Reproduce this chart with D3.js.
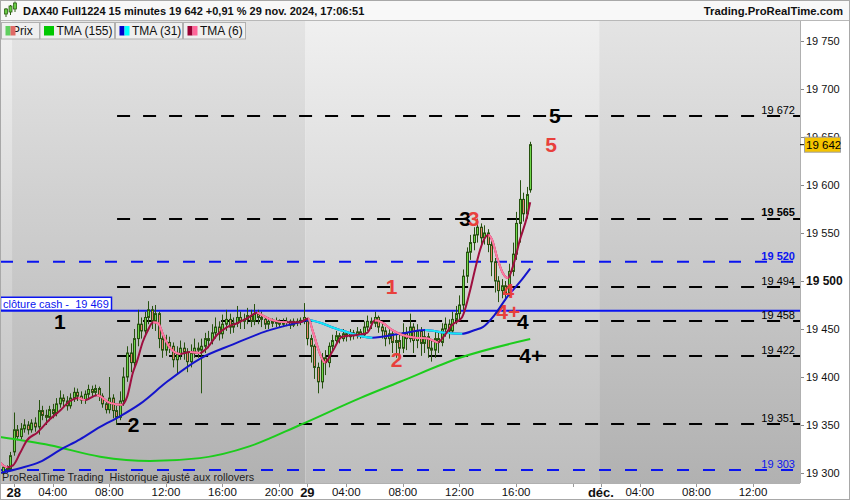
<!DOCTYPE html>
<html><head><meta charset="utf-8">
<script src="https://cdn.jsdelivr.net/npm/d3@7/dist/d3.min.js"></script>
<style>
html,body{margin:0;padding:0;background:#fff;}
svg{display:block;font-family:"Liberation Sans",Arial,Helvetica,sans-serif;}
</style></head><body>
<svg id="chart" width="850" height="500"></svg>
<script>
// ---------------- DATA ----------------
const title = "DAX40 Full1224 15 minutes 19 642 +0,91 % 29 nov. 2024, 17:06:51";
const brand = "Trading.ProRealTime.com";
const footNote = "ProRealTime Trading  Historique ajusté aux rollovers";
const firstBar = -3;            // bar index of first candle (27 nov, 21:15)
const barsPerDay = 83;          // 01:15 .. 21:45, 15-minute bars
const sessionStartHour = 1.25;

const opens = [19300,19306,19304,
19322,19345,19338,19346,19350,19345,19352,19348,19365,19360,
19358,19366,19362,19372,19378,19375,19370,19378,19384,19380,
19376,19382,19387,19384,19388,19380,19372,19366,19378,19365,
19358,19375,19400,19425,19415,19440,19455,19448,19462,19470,
19458,19466,19440,19428,19436,19432,19418,19424,19430,19426,
19416,19425,19430,19428,19432,19440,19438,19446,19452,19445,
19455,19460,19452,19456,19462,19458,19460,19464,19458,19466,
19462,19460,19455,19458,19456,19458,19455,19457,19458,19454,
19458,19457,19459,
19458,19440,19432,19410,19395,19420,19415,
19432,19438,19443,19440,19445,19442,19446,19443,19447,19444,
19452,19458,19456,19462,19452,19448,19440,19445,19436,19438,
19430,19446,19440,19452,19438,19448,19435,19442,19430,19428,
19440,19436,19450,19455,19448,19460,19466,19475,19505,19530,
19540,19548,19556,19545,19550,19538,19520,19500,19490,19495,
19488,19510,19528,19560,19585,19570,19595];
const highs = [19309,19308,19322,
19363,19350,19352,19356,19354,19356,19358,19376,19370,19366,
19370,19372,19378,19386,19382,19380,19383,19389,19388,19385,
19386,19392,19391,19392,19390,19383,19376,19400,19382,19370,
19385,19410,19432,19435,19450,19470,19462,19468,19479,19474,
19475,19468,19445,19444,19442,19436,19432,19438,19436,19430,
19434,19440,19436,19440,19446,19448,19455,19462,19458,19465,
19470,19466,19462,19474,19468,19466,19472,19470,19476,19470,
19468,19463,19462,19461,19462,19460,19461,19462,19460,19461,
19461,19462,19477,
19460,19444,19434,19415,19425,19428,19436,
19444,19448,19446,19450,19448,19450,19449,19452,19450,19458,
19464,19462,19468,19464,19456,19452,19452,19450,19446,19444,
19456,19452,19466,19456,19455,19452,19450,19446,19438,19448,
19446,19456,19462,19460,19468,19474,19485,19512,19535,19548,
19556,19565,19560,19558,19554,19542,19524,19505,19502,19500,
19518,19540,19572,19605,19592,19598,19645];
const lows = [19298,19300,19302,
19318,19334,19335,19342,19340,19342,19343,19340,19355,19350,
19354,19357,19359,19368,19369,19365,19367,19374,19375,19372,
19372,19378,19379,19380,19375,19368,19362,19362,19357,19350,
19355,19370,19395,19405,19410,19432,19440,19442,19455,19450,
19448,19430,19420,19422,19425,19410,19403,19418,19418,19405,
19410,19420,19420,19383,19425,19430,19434,19440,19438,19440,
19448,19445,19446,19452,19450,19450,19455,19452,19454,19455,
19452,19450,19450,19452,19452,19451,19452,19453,19450,19452,
19453,19454,19455,
19433,19415,19398,19383,19388,19402,19410,
19428,19434,19435,19437,19437,19438,19439,19440,19440,19441,
19448,19450,19452,19446,19440,19432,19434,19425,19420,19418,
19425,19428,19436,19425,19430,19422,19425,19420,19416,19420,
19425,19432,19442,19440,19445,19455,19460,19470,19498,19522,
19532,19540,19536,19538,19530,19505,19488,19478,19482,19480,
19484,19505,19522,19540,19562,19565,19592];
const closes = [19306,19304,19318,
19345,19338,19346,19350,19345,19352,19348,19365,19360,19358,
19366,19362,19372,19378,19375,19370,19378,19384,19380,19376,
19382,19387,19384,19388,19380,19372,19366,19378,19365,19358,
19375,19400,19425,19415,19440,19455,19448,19462,19470,19458,
19466,19440,19428,19436,19432,19418,19424,19430,19426,19416,
19425,19430,19428,19432,19440,19438,19446,19452,19445,19455,
19460,19452,19456,19462,19458,19460,19464,19458,19466,19462,
19460,19455,19458,19456,19458,19455,19457,19458,19454,19458,
19457,19459,19462,
19440,19432,19410,19395,19420,19415,19432,
19438,19443,19440,19445,19442,19446,19443,19447,19444,19452,
19458,19456,19462,19452,19448,19440,19445,19436,19438,19430,
19446,19440,19452,19438,19448,19435,19442,19430,19428,19440,
19436,19450,19455,19448,19460,19466,19475,19505,19530,19540,
19548,19556,19545,19550,19538,19520,19500,19490,19495,19488,
19510,19528,19560,19585,19570,19590,19642];

// moving averages: [bar index, value]
const tma155 = [[-3.9,19337.5],[10.2,19329],[24.4,19317],[38.5,19312.5],[52.6,19315.5],[66.8,19328],[80.9,19350],[97.9,19378],[109.2,19395],[126.1,19420],[146,19439.5]];
const tma31 = [[-3.9,19300],[1.75,19305],[7.4,19311.5],[13.1,19324],[18.7,19335],[24.4,19348],[30,19359],[35.7,19372],[43.3,19395],[52.6,19419],[62,19434],[71.6,19448],[80.9,19457],[83.2,19459],[92.2,19449],[101.3,19441],[109.2,19445],[116.3,19449],[121.9,19446],[126.7,19445],[130.4,19449],[132.6,19452],[136,19465],[139.4,19483],[143.1,19499],[146,19513]];
const tma6 = [[-3.9,19311],[-1.9,19306],[-0.2,19308],[1.8,19321],[3.7,19334],[6.6,19342],[10.2,19356],[13.1,19365],[15.9,19375],[18.2,19378],[20.1,19376],[23.5,19381],[27.2,19373],[30.6,19371],[32,19379],[33.7,19405],[34.8,19416],[36.5,19437],[37.7,19447],[39.4,19457],[40.8,19456],[42.2,19444],[44.2,19430],[47,19424],[49.8,19426],[52.6,19425],[54.6,19430],[57.5,19444],[60.3,19452],[63.1,19456],[65.9,19461],[68.8,19467],[70.4,19464],[73.3,19459],[77.2,19457],[80.9,19457],[83.2,19461],[84.6,19447],[86,19430],[88,19415],[90,19426],[92.8,19442],[97.3,19444],[99.9,19446],[102.1,19459],[104.1,19457],[106.9,19449],[109.7,19444],[113.4,19441],[117.1,19440],[119.9,19436],[121.9,19444],[123.9,19454],[126.7,19462],[129,19490],[130.4,19512],[131.8,19532],[133.2,19545],[134.2,19548],[135.2,19543],[136.6,19525],[138.3,19508],[139.7,19503],[141.1,19515],[143.1,19543],[145.1,19567],[146,19582]];

const levelValues = [19672,19565,19494,19458,19422,19351];
const levelBold = [false,true,false,false,false,false];
const blueLevels = [19520,19303];
const blueBold = [true,false];
const cashClose = 19469;
const lastPrice = 19642;

const yTicks = [19300,19350,19400,19450,19500,19550,19600,19650,19700,19750];
const xTickLabels = ["28","04:00","08:00","12:00","16:00","20:00","29","04:00","08:00","12:00","16:00","","déc.","04:00","08:00","12:00"];
const xTickDays   = [0,0,0,0,0,0,1,1,1,1,1,1,2,2,2,2];
const xTickHours  = [1.25,4,8,12,16,20,1.25,4,8,12,16,20,1.25,4,8,12];

const blackMarks = ["1","2","3","4","4+","5"];
const blackMarkBars = [13,33.9,127.6,143.9,146.3,153];
const blackMarkVals = [19458,19351,19565,19458,19422,19672];
const redMarks = ["1","2","3","4","4+","5"];
const redMarkBars = [106.8,108.2,130,139.8,139.8,151.9];
const redMarkVals = [19494,19418,19565,19490,19468,19642];

const legendNames = ["Prix","TMA (155)","TMA (31)","TMA (6)"];

// ---------------- DRAW ----------------
const W=850,H=500, PT=21, PB=483, PR=800;
const svg=d3.select("#chart");
const defs=svg.append("defs");
const x=d3.scaleLinear().domain([-3.902,222.28]).range([0,PR]);
const y=d3.scaleLinear().domain([19300,19750]).range([473,41]);
const barOf=(day,h)=>day*barsPerDay+(h-sessionStartHour)*4;
const fmt=v=>String(v).replace(/\B(?=(\d{3})+(?!\d))/g," ");

svg.append("rect").attr("width",W).attr("height",H).attr("fill","#fff");

function grad(id,c1,c2){const g=defs.append("linearGradient").attr("id",id).attr("x1",0).attr("y1",0).attr("x2",0).attr("y2",1);
 g.append("stop").attr("offset","0%").attr("stop-color",c1);g.append("stop").attr("offset","100%").attr("stop-color",c2);}
grad("gLight","#f0f0f0","#bdbdbd");
grad("gDark","#e4e4e4","#b1b1b1");
defs.append("clipPath").attr("id","plotClip").append("rect").attr("x",0).attr("y",PT).attr("width",PR).attr("height",PB-PT);

// header
svg.append("rect").attr("x",0).attr("y",0).attr("width",W).attr("height",PT).attr("fill","#f8f8f8");
svg.append("line").attr("x1",0).attr("x2",W).attr("y1",20.5).attr("y2",20.5).attr("stroke","#b8b8b8");
const icon=svg.append("g");
[[6,8,14,9,12],[10.5,5,12,6,10],[15,1.5,9,3,7]].forEach(c=>{
  icon.append("line").attr("x1",c[0]).attr("x2",c[0]).attr("y1",c[1]).attr("y2",c[2]+3).attr("stroke","#2e6014");
  icon.append("rect").attr("x",c[0]-1.5).attr("y",c[3]).attr("width",3).attr("height",c[4]-c[3]+2).attr("fill","#66cc44").attr("stroke","#2e6014").attr("stroke-width",0.8);
});
svg.append("text").attr("x",23).attr("y",15).attr("font-size",11).attr("font-weight","bold").attr("fill","#111").text(title);
svg.append("text").attr("x",843).attr("y",15).attr("text-anchor","end").attr("font-size",11.3).attr("font-weight","bold").attr("fill","#111").text(brand);

// plot columns (sessions)
const plot=svg.append("g").attr("clip-path","url(#plotClip)");
const bounds=[-3.902,barOf(0,sessionStartHour)-0.5,barOf(1,sessionStartHour)-0.5,barOf(2,sessionStartHour)-0.5,222.28];
for(let k=0;k<bounds.length-1;k++){
  plot.append("rect").attr("x",x(bounds[k])).attr("y",PT).attr("width",x(bounds[k+1])-x(bounds[k])).attr("height",PB-PT)
   .attr("fill",k%2===0?"url(#gLight)":"url(#gDark)");
}

// level lines
const levelStart = 29.2;
plot.selectAll(".bl").data(blueLevels).enter().append("line")
 .attr("x1",0).attr("x2",PR).attr("y1",d=>y(d)).attr("y2",d=>y(d))
 .attr("stroke","#0a14f0").attr("stroke-width",2).attr("stroke-dasharray","12,14").attr("stroke-dashoffset",-1);
plot.selectAll(".kl").data(levelValues).enter().append("line")
 .attr("x1",x(levelStart)).attr("x2",PR).attr("y1",d=>Math.round(y(d))).attr("y2",d=>Math.round(y(d)))
 .attr("stroke","#000").attr("stroke-width",2).attr("stroke-dasharray","13,13");
plot.append("line").attr("x1",0).attr("x2",PR).attr("y1",y(cashClose)).attr("y2",y(cashClose)).attr("stroke","#0a14f0").attr("stroke-width",2);

// candles
const bars=opens.map((o,k)=>({i:firstBar+k,o,h:highs[k],l:lows[k],c:closes[k]}));
const cg=plot.append("g");
cg.selectAll(".w").data(bars).enter().append("line")
 .attr("x1",d=>Math.round(x(d.i))+0.5).attr("x2",d=>Math.round(x(d.i))+0.5)
 .attr("y1",d=>y(d.h)).attr("y2",d=>y(d.l)).attr("stroke","#275210").attr("stroke-width",1);
cg.selectAll(".b").data(bars).enter().append("rect")
 .attr("x",d=>Math.round(x(d.i))-0.5).attr("width",2)
 .attr("y",d=>y(Math.max(d.o,d.c))).attr("height",d=>Math.max(1,Math.abs(y(d.o)-y(d.c))))
 .attr("fill",d=>d.c>=d.o?"#6fd84a":"#ea8470").attr("stroke","#275210").attr("stroke-width",1);

// moving averages
const lineGen=d3.line().x(d=>x(d[0])).y(d=>y(d[1])).curve(d3.curveMonotoneX);
function colored(pts,up,down,id){
  const cp=defs.append("clipPath").attr("id",id);
  for(let k=0;k<pts.length-1;k++){
    if(pts[k+1][1]<pts[k][1]) cp.append("rect").attr("x",x(pts[k][0])).attr("y",0).attr("width",x(pts[k+1][0])-x(pts[k][0])+0.3).attr("height",H);
  }
  plot.append("path").attr("d",lineGen(pts)).attr("fill","none").attr("stroke",up).attr("stroke-width",2);
  plot.append("path").attr("d",lineGen(pts)).attr("fill","none").attr("stroke",down).attr("stroke-width",2).attr("clip-path",`url(#${id})`);
}
plot.append("path").attr("d",lineGen(tma155)).attr("fill","none").attr("stroke","#1ccc1c").attr("stroke-width",2);
colored(tma31,"#1414cc","#14e8f4","c31");
colored(tma6,"#9e0f3f","#ff7aa2","c6");

// level labels
const lab=svg.append("g").attr("font-size",11);
levelValues.forEach((v,k)=>lab.append("text").attr("x",795).attr("y",y(v)-6).attr("dy","0.35em").attr("text-anchor","end")
  .attr("font-weight",levelBold[k]?"bold":"normal").attr("fill","#000").text(fmt(v)));
blueLevels.forEach((v,k)=>lab.append("text").attr("x",795).attr("y",y(v)-6).attr("dy","0.35em").attr("text-anchor","end")
  .attr("font-weight",blueBold[k]?"bold":"normal").attr("fill","#0a14f0").text(fmt(v)));

// annotations
const an=svg.append("g").attr("font-size",21).attr("font-weight","bold").attr("text-anchor","middle");
blackMarks.forEach((t,k)=>an.append("text").attr("x",x(blackMarkBars[k])).attr("y",y(blackMarkVals[k])).attr("dy","0.36em").attr("fill","#000").text(t));
redMarks.forEach((t,k)=>an.append("text").attr("x",x(redMarkBars[k])).attr("y",y(redMarkVals[k])).attr("dy","0.36em").attr("fill","#e8403c").text(t));

// cash close label
svg.append("rect").attr("x",0.5).attr("y",y(cashClose)-13.5).attr("width",111).attr("height",13).attr("fill","#fff").attr("stroke","#0a14f0").attr("stroke-width",1.5);
svg.append("text").attr("x",3).attr("y",y(cashClose)-7).attr("dy","0.35em").attr("font-size",11).attr("fill","#0a14f0").attr("xml:space","preserve").text("clôture cash -  "+fmt(cashClose));

// legend
const legX=[1,39.5,115,183], legW=[38,74.5,67,62];
const legIcons=[["#5fcf5f","#e06a66"],["#00c800","#00c800"],["#0000cc","#00ffff"],["#990033","#ff6699"]];
const lg=svg.append("g");
legendNames.forEach((n,k)=>{
  lg.append("rect").attr("x",legX[k]+0.5).attr("y",22.5).attr("width",legW[k]).attr("height",16.5).attr("fill","#efefef").attr("stroke","#b0b0b0");
  const tx = k===0? legX[k]+11 : legX[k]+17;
  lg.append("text").attr("x",tx).attr("y",31).attr("dy","0.35em").attr("font-size",12).attr("fill","#111").text(n);
  lg.append("rect").attr("x",legX[k]+4.5).attr("y",26).attr("width",5).attr("height",9.5).attr("fill",legIcons[k][0]);
  lg.append("rect").attr("x",legX[k]+9.5).attr("y",26).attr("width",5).attr("height",9.5).attr("fill",legIcons[k][1]);
});

// footnote
svg.append("text").attr("x",2).attr("y",477).attr("dy","0.35em").attr("font-size",10.8).attr("fill","#222").attr("xml:space","preserve").text(footNote);

// right axis
svg.append("rect").attr("x",PR).attr("y",PT).attr("width",W-PR).attr("height",H-PT).attr("fill","#fff");
svg.append("rect").attr("x",0).attr("y",PB).attr("width",PR).attr("height",H-PB).attr("fill","#fff");
const ra=svg.append("g");
yTicks.forEach(v=>{
  ra.append("line").attr("x1",PR).attr("x2",PR+4).attr("y1",Math.round(y(v))+0.5).attr("y2",Math.round(y(v))+0.5).attr("stroke","#888");
  ra.append("text").attr("x",PR+6).attr("y",y(v)).attr("dy","0.35em").attr("font-size",v===19500?12:11).attr("font-weight",v===19500?"bold":"normal").attr("fill","#111").text(fmt(v));
});
// bottom axis
const ba=svg.append("g");
xTickLabels.forEach((t,k)=>{
  const b=barOf(xTickDays[k],xTickHours[k]);
  const xx=Math.round(x(b))+0.5;
  ba.append("line").attr("x1",xx).attr("x2",xx).attr("y1",PB).attr("y2",PB+4).attr("stroke","#999");
  if(t){
    const day=xTickHours[k]===sessionStartHour;
    ba.append("text").attr("x",x(b)).attr("y",492).attr("dy","0.35em").attr("text-anchor","middle")
     .attr("font-size",day?13:11.5).attr("font-weight",day?"bold":"normal").attr("fill","#111").text(t);
  }
});
// frame
svg.append("line").attr("x1",PR+0.5).attr("x2",PR+0.5).attr("y1",PT).attr("y2",PB).attr("stroke","#b0b0b0");
svg.append("line").attr("x1",0).attr("x2",PR).attr("y1",PB+0.5).attr("y2",PB+0.5).attr("stroke","#b0b0b0");
svg.append("rect").attr("x",0.5).attr("y",0.5).attr("width",W-1).attr("height",H-1).attr("fill","none").attr("stroke","#a8a8a8");

// last price label
svg.append("line").attr("x1",PR).attr("x2",PR+4).attr("y1",y(lastPrice)).attr("y2",y(lastPrice)).attr("stroke","#000");
svg.append("rect").attr("x",804.5).attr("y",y(lastPrice)-7.5).attr("width",36).attr("height",15).attr("fill","#f5c400").attr("stroke","#a0a0a0");
svg.append("text").attr("x",806).attr("y",y(lastPrice)).attr("dy","0.35em").attr("font-size",11.5).attr("fill","#000").text(fmt(lastPrice));
</script></body></html>
